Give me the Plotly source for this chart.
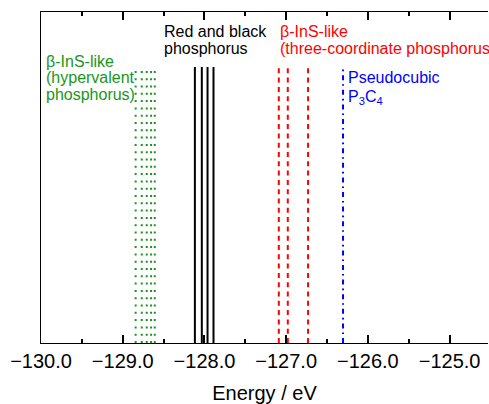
import plotly.graph_objects as go

# Data (energies in eV)
green_hyper = [-128.842, -128.767, -128.706, -128.653, -128.608]
black_rp = [-128.117, -128.032, -127.962, -127.889]
red_three = [-127.090, -126.980, -126.732]
blue_p3c4 = [-126.304]
line_height = 0.834

x_range = [-130, -124.53]
tick_start = -130.0
tick_step = 1.0
minor_step = 0.5

GREEN = "rgb(25,150,25)"
FONT = "Arial, Liberation Sans, sans-serif"

fig = go.Figure()

def add_lines(xs, color, dash, width):
    for x in xs:
        fig.add_trace(go.Scatter(x=[x, x], y=[0, line_height], mode="lines",
                                 line=dict(color=color, dash=dash, width=width),
                                 showlegend=False, hoverinfo="skip"))

add_lines(green_hyper, GREEN, "2px,5.3px", 2)
add_lines(black_rp, "black", "solid", 2)
add_lines(red_three, "red", "5px,4.3px", 2)
add_lines(blue_p3c4, "blue", "5px,4px,1.6px,4px", 2)

def ann(x, y, text, color):
    fig.add_annotation(x=x, y=y, xref="x", yref="paper", text=text, showarrow=False,
                       xanchor="left", yanchor="middle",
                       font=dict(family=FONT, size=16, color=color))

ann(-129.965, 0.849, "β-InS-like", GREEN)
ann(-129.965, 0.801, "(hypervalent", GREEN)
ann(-129.965, 0.752, "phosphorus)", GREEN)
ann(-128.52, 0.940, "Red and black", "black")
ann(-128.52, 0.891, "phosphorus", "black")
ann(-127.103, 0.940, "β-InS-like", "red")
ann(-127.103, 0.891, "(three-coordinate phosphorus)", "red")
ann(-126.262, 0.801, "Pseudocubic", "blue")
ann(-126.262, 0.743, "P<sub>3</sub>C<sub>4</sub>", "blue")

fig.update_layout(
    width=489, height=404,
    margin=dict(l=41, r=1, t=12, b=61),
    paper_bgcolor="white", plot_bgcolor="white",
    font=dict(family=FONT, color="black"),
    xaxis=dict(range=x_range, tickmode="linear", tick0=tick_start, dtick=tick_step, tickformat=".1f",
               ticks="inside", ticklen=8, tickwidth=2, tickcolor="black",
               showline=True, linecolor="black", linewidth=1, mirror="allticks",
               showgrid=False, zeroline=False,
               tickfont=dict(size=20, family=FONT, color="black"),
               title=dict(text="Energy / eV", font=dict(size=20, family=FONT, color="black"), standoff=14),
               minor=dict(dtick=minor_step, ticks="inside", ticklen=4,
                          tickwidth=2, tickcolor="black", showgrid=False)),
    yaxis=dict(range=[0, 1], showticklabels=False, ticks="", showgrid=False, zeroline=False,
               showline=True, linecolor="black", linewidth=1, mirror=False),
)

fig.write_html("out.html", post_script=["document.body.style.margin='0';"],
               config={"displayModeBar": False})
